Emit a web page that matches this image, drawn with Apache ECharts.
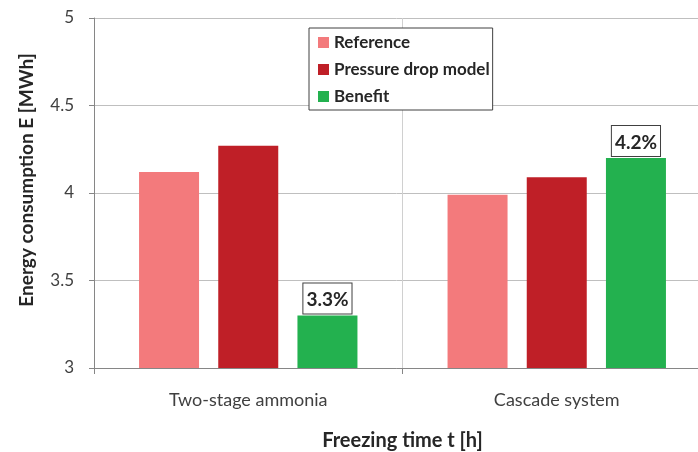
<!DOCTYPE html>
<html>
<head>
<meta charset="utf-8">
<script src="https://cdn.jsdelivr.net/npm/echarts@6/dist/echarts.min.js"></script>
<style>
  html, body { margin: 0; padding: 0; background: #fff; }
  #chart { width: 698px; height: 452px; }
</style>
</head>
<body>
<div id="chart"></div>
<script>
// Energy consumption per refrigeration system
const categories = ['Two-stage ammonia', 'Cascade system'];
const referenceValues = [4.12, 3.99];
const pressureDropValues = [4.27, 4.09];
const benefitValues = [3.3, 4.2];
const yTicks = { min: 3, max: 5, interval: 0.5 };

const FONT = 'Lato, "Open Sans", sans-serif';
const AXIS_GREY = '#868686';

const chart = echarts.init(document.getElementById('chart'), null, { renderer: 'canvas' });

chart.setOption({
  animation: false,
  textStyle: { fontFamily: FONT },
  // plot area runs past the right edge of the canvas
  grid: { left: 94, top: 18, width: 617, height: 350, containLabel: false, outerBoundsMode: 'none' },
  legend: {
    orient: 'vertical',
    left: 309,
    top: 28,
    padding: [6, 3, 5, 9],
    itemWidth: 11,
    itemHeight: 11,
    itemGap: 10,
    icon: 'rect',
    backgroundColor: '#ffffff',
    borderColor: '#404040',
    borderWidth: 1,
    textStyle: { fontFamily: FONT, fontSize: 17, fontWeight: 'bold', color: '#262626' },
    data: ['Reference', 'Pressure drop model', 'Benefit']
  },
  xAxis: {
    type: 'category',
    data: categories,
    name: 'Freezing time t [h]',
    nameLocation: 'middle',
    nameGap: 63,
    nameTextStyle: { fontFamily: FONT, fontSize: 20, fontWeight: 'bold', color: '#262626' },
    axisLine: { show: true, lineStyle: { color: AXIS_GREY, width: 1 } },
    axisTick: { show: true, length: 6, lineStyle: { color: AXIS_GREY } },
    splitLine: { show: true, lineStyle: { color: '#d0d0d0', width: 1 } },
    axisLabel: { margin: 23, fontFamily: FONT, fontSize: 18, color: '#404040' }
  },
  yAxis: {
    type: 'value',
    min: yTicks.min,
    max: yTicks.max,
    interval: yTicks.interval,
    name: 'Energy consumption E [MWh]',
    nameLocation: 'middle',
    nameGap: 58,
    nameTextStyle: { fontFamily: FONT, fontSize: 19, fontWeight: 'bold', color: '#262626', padding: [0, 0, 0, 26] },
    axisLine: { show: true, lineStyle: { color: AXIS_GREY, width: 1 } },
    axisTick: { show: true, length: 5, lineStyle: { color: AXIS_GREY } },
    splitLine: { show: true, lineStyle: { color: '#bfbfbf', width: 1 } },
    axisLabel: { margin: 20, fontFamily: FONT, fontSize: 17, color: '#404040' }
  },
  series: [
    {
      name: 'Reference',
      type: 'bar',
      data: referenceValues,
      barWidth: 60,
      barGap: '32%',
      itemStyle: { color: '#F37A7C' }
    },
    {
      name: 'Pressure drop model',
      type: 'bar',
      data: pressureDropValues,
      barWidth: 60,
      barGap: '32%',
      itemStyle: { color: '#BF1F27' }
    },
    {
      name: 'Benefit',
      type: 'bar',
      data: benefitValues,
      barWidth: 60,
      barGap: '32%',
      itemStyle: { color: '#23B14F' },
      label: {
        show: true,
        position: 'top',
        distance: 2,
        formatter: '{c}%',
        fontFamily: FONT,
        fontSize: 19,
        fontWeight: 'bold',
        color: '#262626',
        backgroundColor: '#ffffff',
        borderColor: '#404040',
        borderWidth: 1,
        padding: [7, 3, 4, 3]
      }
    }
  ]
});
</script>
</body>
</html>
